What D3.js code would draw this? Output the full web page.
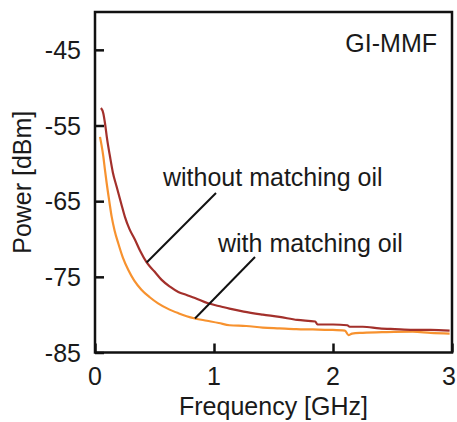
<!DOCTYPE html>
<html>
<head>
<meta charset="utf-8">
<script src="https://cdn.jsdelivr.net/npm/d3@7"></script>
<style>
  html, body { margin: 0; padding: 0; background: #fff; }
  svg { display: block; }
  text { font-family: "Liberation Sans", Arial, Helvetica, sans-serif; fill: #1a1a1a; }
</style>
</head>
<body>
<svg id="chart" width="457" height="422"></svg>
<script>
// Received power spectra of the GI-MMF link, with and without index-matching oil
const freqWithout = [0.05, 0.07, 0.084, 0.10, 0.126, 0.15, 0.182, 0.22, 0.252, 0.29, 0.336, 0.38, 0.434, 0.50, 0.56, 0.63, 0.70, 0.77, 0.84, 0.95, 1.065, 1.13, 1.25, 1.41, 1.55, 1.70, 1.85, 1.87, 2.0, 2.12, 2.14, 2.25, 2.39, 2.52, 2.67, 2.82, 2.98];
const powerWithout = [-52.7, -53.4, -54.7, -56.6, -59.1, -61.2, -63.1, -65.3, -67.1, -68.7, -70.1, -71.6, -73.1, -74.3, -75.4, -76.3, -77.0, -77.4, -77.8, -78.5, -78.95, -79.2, -79.6, -80.0, -80.3, -80.7, -80.9, -81.3, -81.3, -81.4, -81.6, -81.6, -81.8, -81.9, -82.0, -82.0, -82.1];

const freqWith = [0.042, 0.055, 0.07, 0.084, 0.098, 0.12, 0.14, 0.165, 0.196, 0.235, 0.28, 0.33, 0.39, 0.46, 0.53, 0.61, 0.70, 0.77, 0.84, 0.94, 1.04, 1.13, 1.27, 1.41, 1.55, 1.69, 1.83, 1.97, 2.10, 2.13, 2.16, 2.25, 2.45, 2.67, 2.82, 2.98];
const powerWith = [-56.5, -57.6, -59.1, -60.9, -62.6, -65.0, -67.05, -68.9, -70.6, -72.5, -74.1, -75.5, -76.7, -77.7, -78.5, -79.2, -79.8, -80.2, -80.5, -80.8, -81.1, -81.4, -81.5, -81.7, -81.8, -81.9, -81.95, -82.0, -82.1, -82.7, -82.5, -82.4, -82.3, -82.25, -82.4, -82.5];

const xTicks = [0, 1, 2, 3];
const yTicks = [-45, -55, -65, -75, -85];
const xDomain = [0, 3];
const yDomain = [-85, -40];

const svg = d3.select("#chart");
const W = 457, H = 422;
const m = { left: 95, right: 5, top: 12, bottom: 69.5 };

const x = d3.scaleLinear().domain(xDomain).range([m.left, W - m.right]);
const y = d3.scaleLinear().domain(yDomain).range([H - m.bottom, m.top]);

svg.append("rect").attr("width", W).attr("height", H).attr("fill", "#fff");

// traces
const line = d3.line()
  .x(d => x(d[0]))
  .y(d => y(d[1]))
  .curve(d3.curveMonotoneX);

svg.append("path")
  .datum(d3.zip(freqWith, powerWith))
  .attr("fill", "none")
  .attr("stroke", "#f7922f")
  .attr("stroke-width", 2.2)
  .attr("d", line);

svg.append("path")
  .datum(d3.zip(freqWithout, powerWithout))
  .attr("fill", "none")
  .attr("stroke", "#a3302b")
  .attr("stroke-width", 2.2)
  .attr("d", line);

// axes with inward ticks, no labels from the generator
const tickLen = 9;
const yAxis = d3.axisLeft(y).tickValues(yTicks).tickSize(-tickLen).tickFormat("");
const xAxis = d3.axisBottom(x).tickValues(xTicks).tickSize(-tickLen).tickFormat("");

const gy = svg.append("g").attr("transform", `translate(${m.left},0)`).call(yAxis);
const gx = svg.append("g").attr("transform", `translate(0,${H - m.bottom})`).call(xAxis);
[gy, gx].forEach(g => {
  g.select(".domain").remove();
  g.selectAll(".tick line").attr("stroke", "#111").attr("stroke-width", 2.5);
});

// frame
svg.append("rect")
  .attr("x", x(xDomain[0])).attr("y", y(yDomain[1]))
  .attr("width", x(xDomain[1]) - x(xDomain[0]))
  .attr("height", y(yDomain[0]) - y(yDomain[1]))
  .attr("fill", "none").attr("stroke", "#111").attr("stroke-width", 2.5);

// tick labels
const fs = 25;
svg.append("g").selectAll("text").data(yTicks).join("text")
  .attr("x", m.left - 14).attr("y", d => y(d)).attr("dy", "0.36em")
  .attr("text-anchor", "end").attr("font-size", fs)
  .text(d => d);

// keep the last label inside the canvas
svg.append("g").selectAll("text").data(xTicks).join("text")
  .attr("x", d => Math.min(x(d), W - 8)).attr("y", 385)
  .attr("text-anchor", "middle").attr("font-size", fs)
  .text(d => d);

// axis titles
svg.append("text")
  .attr("x", (x(xDomain[0]) + x(xDomain[1])) / 2).attr("y", 415)
  .attr("text-anchor", "middle").attr("font-size", fs)
  .text("Frequency [GHz]");

svg.append("text")
  .attr("transform", `translate(31,${(y(yDomain[0]) + y(yDomain[1])) / 2}) rotate(-90)`)
  .attr("text-anchor", "middle").attr("font-size", fs)
  .text("Power [dBm]");

// panel label
svg.append("text")
  .attr("x", 437).attr("y", 52)
  .attr("text-anchor", "end").attr("font-size", fs)
  .text("GI-MMF");

// annotations with leader lines to each trace
const notes = [
  { text: "without matching oil", tx: 163, ty: 186, from: [216, 193], toF: 0.434, series: [freqWithout, powerWithout] },
  { text: "with matching oil", tx: 218, ty: 252, from: [255, 257], toF: 0.84, series: [freqWith, powerWith] }
];
notes.forEach(n => {
  const i = n.series[0].indexOf(n.toF);
  svg.append("line")
    .attr("x1", n.from[0]).attr("y1", n.from[1])
    .attr("x2", x(n.series[0][i])).attr("y2", y(n.series[1][i]))
    .attr("stroke", "#111").attr("stroke-width", 2);
  svg.append("text")
    .attr("x", n.tx).attr("y", n.ty)
    .attr("font-size", fs)
    .text(n.text);
});
</script>
</body>
</html>
